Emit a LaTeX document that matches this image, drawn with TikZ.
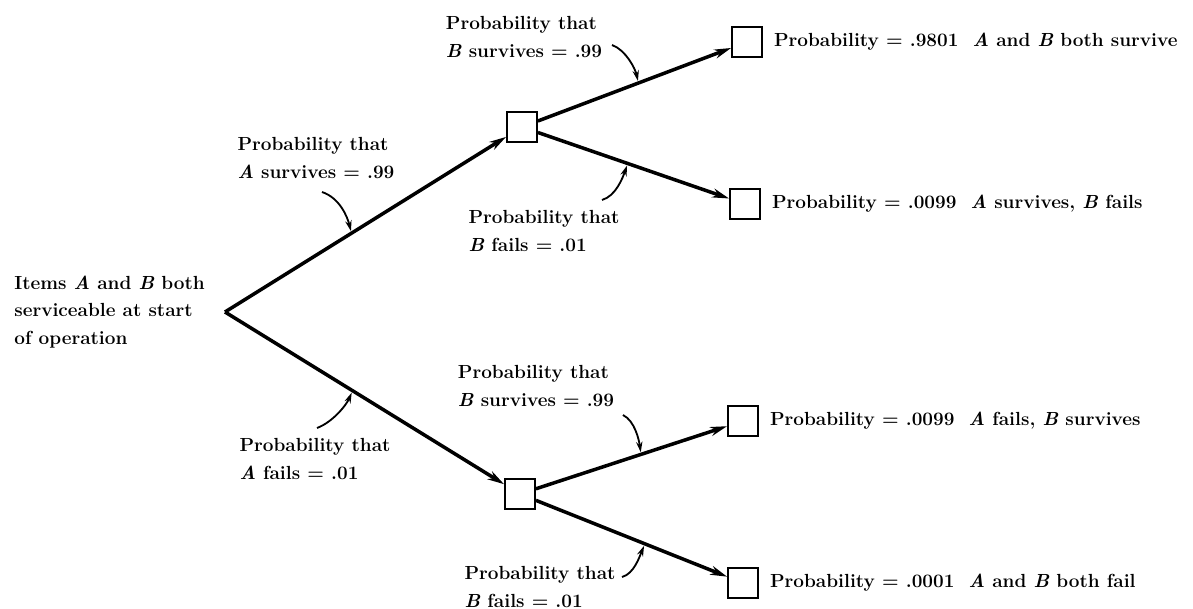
\documentclass[tikz,border=0pt]{standalone}
\usetikzlibrary{arrows.meta,positioning}
\tikzset{
  box/.style={draw, line width=1.3pt, minimum size=0.75cm, inner sep=0pt},
  branch/.style={line width=2.5pt, -{Stealth[length=12pt,width=6.5pt]}},
  note/.style={line width=1.3pt, shorten >=1.5pt, -{Stealth[length=7.5pt,width=4.5pt]}},
  lbl/.style={align=left, inner sep=0pt, font=\bfseries\fontsize{13.5}{19.5}\selectfont},
}
\begin{document}
\begin{tikzpicture}[x=0.025cm, y=-0.025cm]
\useasboundingbox (0,0) rectangle (1193,609);

\coordinate (root) at (225,312);
\node[box] (s1) at (522,127) {};
\node[box] (s2) at (520,494) {};
\node[box] (ss) at (747,42) {};
\node[box] (sf) at (745,204) {};
\node[box] (fs) at (743,421) {};
\node[box] (ff) at (743,583) {};

\node[lbl, anchor=east] (start) at (205,312) {Items \emph{A} and \emph{B} both\\serviceable at start\\of operation};

\draw[branch] (root) -- coordinate[pos=.45] (onAS) (s1);
\draw[branch] (root) -- coordinate[pos=.457] (onAF) (s2);
\draw[branch] (s1) -- coordinate[pos=.52] (onBS1) (ss);
\draw[branch] (s1) -- coordinate[pos=.47] (onBF1) (sf);
\draw[branch] (s2) -- coordinate[pos=.55] (onBS2) (fs);
\draw[branch] (s2) -- coordinate[pos=.57] (onBF2) (ff);

\node[lbl, right=0.27cm of ss] (pss) {Probability = .9801\ \ \emph{A} and \emph{B} both survive};
\node[lbl, right=0.27cm of sf] (psf) {Probability = .0099\ \ \emph{A} survives, \emph{B} fails};
\node[lbl, right=0.27cm of fs] (pfs) {Probability = .0099\ \ \emph{A} fails, \emph{B} survives};
\node[lbl, right=0.27cm of ff] (pff) {Probability = .0001\ \ \emph{A} and \emph{B} both fail};

\node[lbl] (lAS) at (316,158) {Probability that\\\emph{A} survives = .99};
\node[lbl] (lAF) at (315,459) {Probability that\\\emph{A} fails = .01};
\node[lbl] (lBS1) at (524,37) {Probability that\\\emph{B} survives = .99};
\node[lbl] (lBF1) at (544,231) {Probability that\\\emph{B} fails = .01};
\node[lbl] (lBS2) at (536,386) {Probability that\\\emph{B} survives = .99};
\node[lbl] (lBF2) at (540,587) {Probability that\\\emph{B} fails = .01};

\coordinate (fromAS) at (322,192);
\coordinate (fromAF) at (317,428);
\coordinate (fromBS1) at (612,45);
\coordinate (fromBF1) at (602,200);
\coordinate (fromBS2) at (623,415);
\coordinate (fromBF2) at (622,577);

\draw[note] (fromAS) .. controls +(18,6) and +(-4,-16) .. (onAS);
\draw[note] (fromAF) .. controls +(16,-6) and +(-6,14) .. (onAF);
\draw[note] (fromBS1) .. controls +(14,5) and +(-3,-14) .. (onBS1);
\draw[note] (fromBF1) .. controls +(14,-4) and +(-5,14) .. (onBF1);
\draw[note] (fromBS2) .. controls +(12,6) and +(-2,-14) .. (onBS2);
\draw[note] (fromBF2) .. controls +(12,-3) and +(-5,12) .. (onBF2);

\end{tikzpicture}
\end{document}
